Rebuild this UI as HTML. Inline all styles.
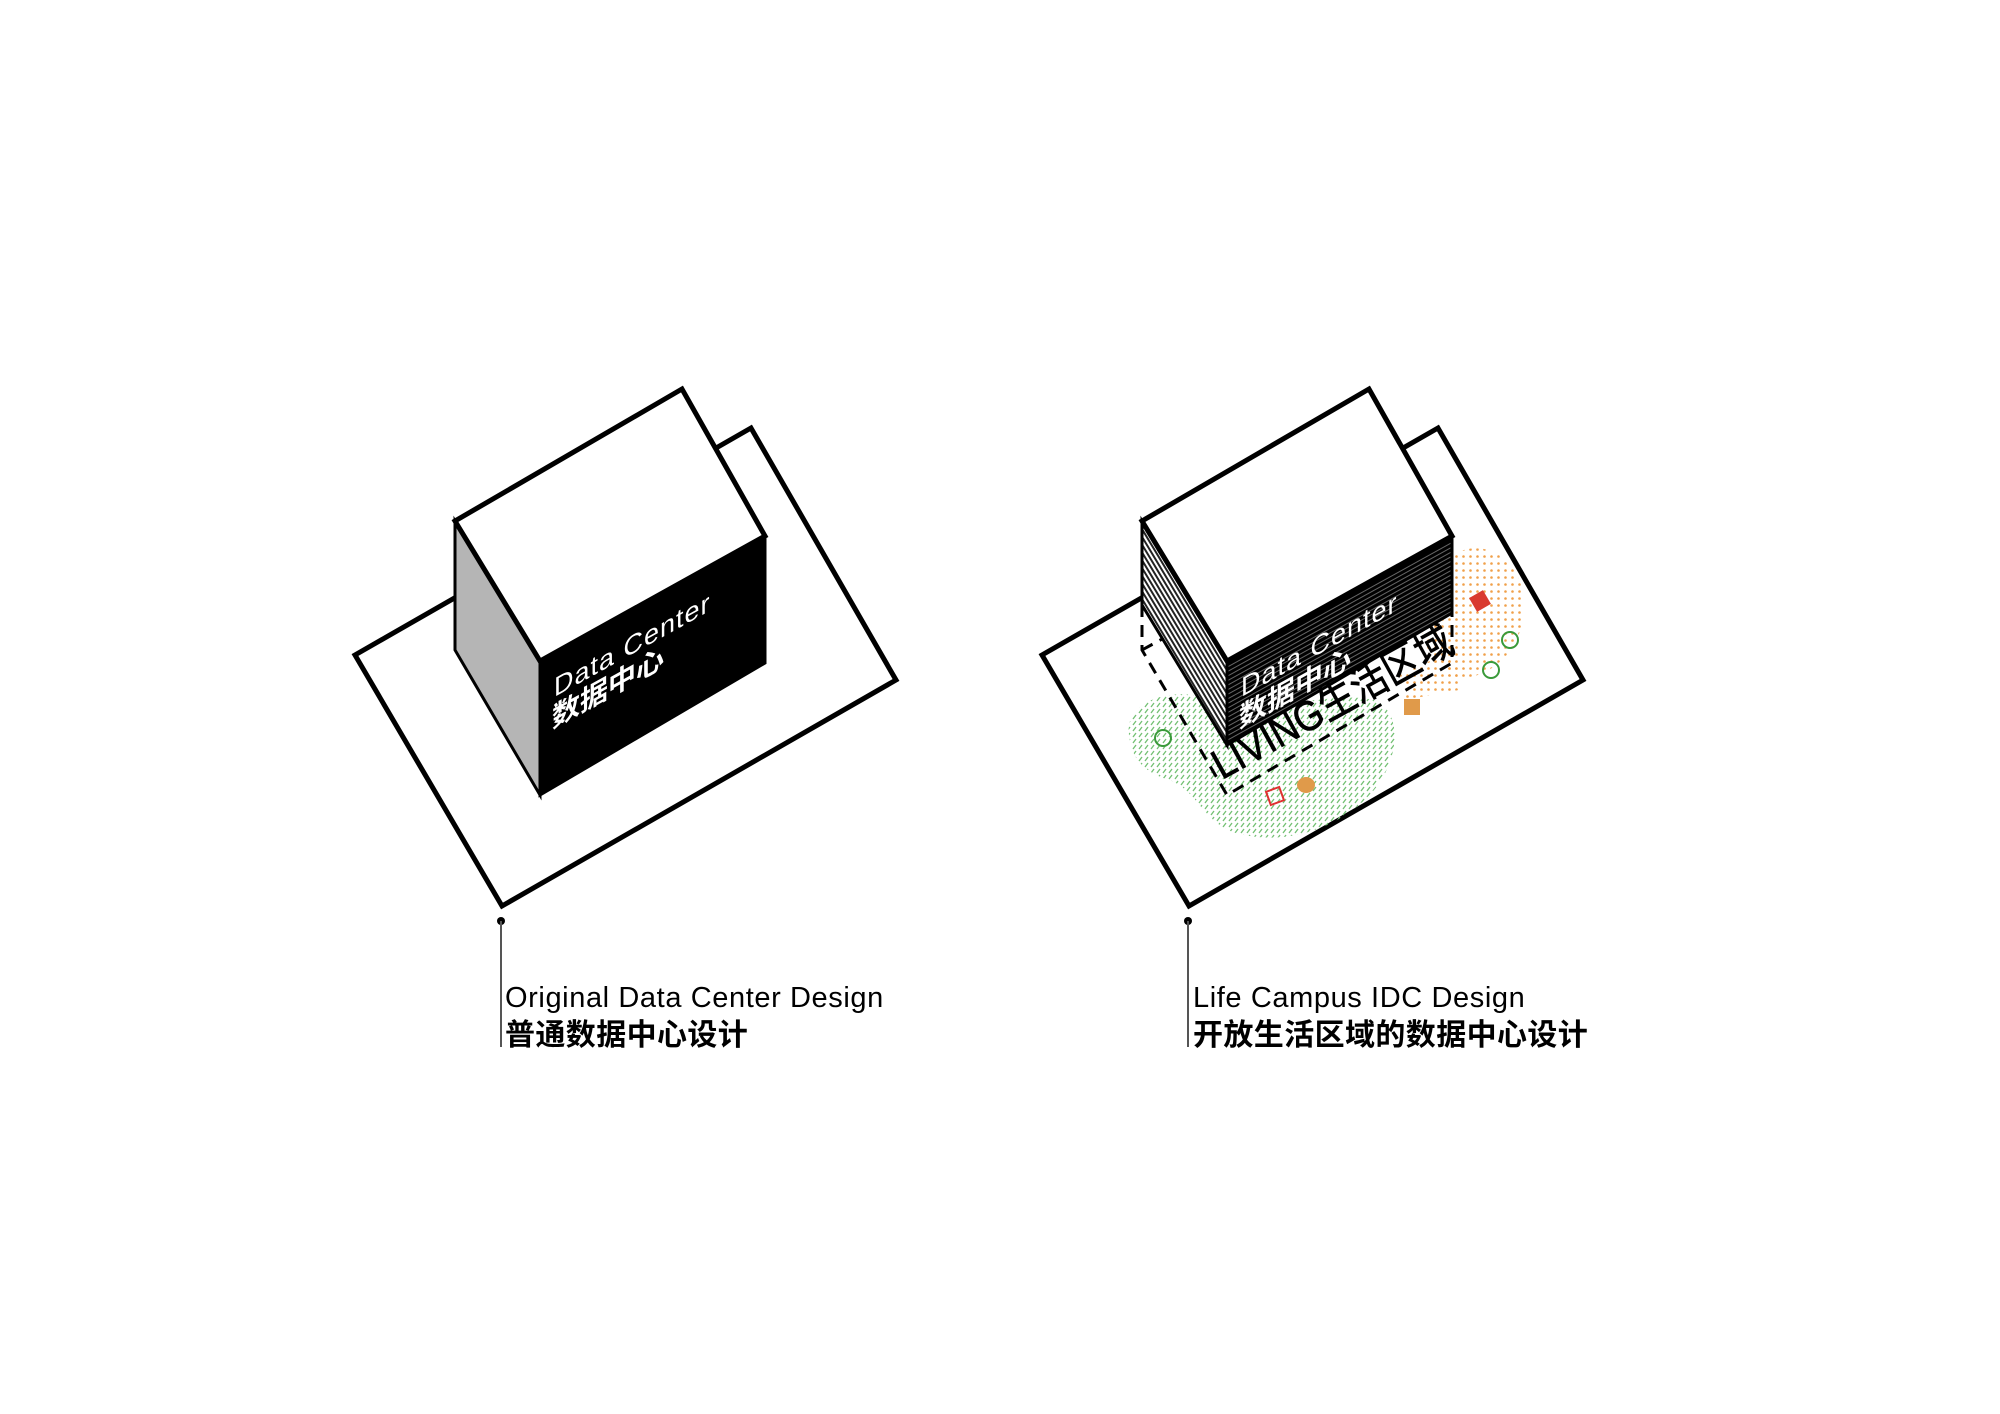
<!DOCTYPE html>
<html><head><meta charset="utf-8"><style>
html,body{margin:0;padding:0;background:#fff;}
svg{display:block;}
.en{font-family:"Liberation Sans","Noto Sans CJK SC",sans-serif;}
.cn{font-family:"Liberation Sans","Noto Sans CJK SC",sans-serif;font-weight:bold;}
</style></head><body>
<svg width="2000" height="1414" viewBox="0 0 2000 1414" xmlns="http://www.w3.org/2000/svg">
<defs>
  <pattern id="side" patternUnits="userSpaceOnUse" width="4" height="4" patternTransform="rotate(59)">
    <rect width="4" height="4" fill="#fff"/><rect width="4" height="2" fill="#222"/>
  </pattern>
  <pattern id="front" patternUnits="userSpaceOnUse" width="4" height="4" patternTransform="rotate(-29)">
    <rect width="4" height="4" fill="#000"/><rect width="4" height="1" fill="#666"/>
  </pattern>
  <pattern id="green" patternUnits="userSpaceOnUse" width="6" height="6">
    <line x1="1" y1="5" x2="4" y2="1" stroke="#73c073" stroke-width="1.3"/>
  </pattern>
  <pattern id="orange" patternUnits="userSpaceOnUse" width="7" height="7">
    <circle cx="3.5" cy="3.5" r="1.3" fill="#f0a04a"/>
  </pattern>
</defs>

<!-- LEFT FIGURE -->
<polygon points="355,655 502,906 896,680 751,428" fill="#fff" stroke="#000" stroke-width="5"/>
<polygon points="455,521 540,661 540,795 455,650" fill="#b5b5b5" stroke="#000" stroke-width="3"/>
<polygon points="540,661 765,536 765,663 540,795" fill="#000" stroke="#000" stroke-width="3"/>
<polygon points="682,389 455,521 540,661 765,536" fill="#fff" stroke="#000" stroke-width="5"/>
<g transform="translate(540,661) skewY(-29)">
  <text x="14" y="44" class="en" font-size="27" fill="#fff" letter-spacing="1">Data Center</text>
  <text x="12" y="74" class="cn" font-size="28" fill="#fff">数据中心</text>
</g>
<circle cx="501" cy="921" r="4" fill="#000"/>
<line x1="501" y1="921" x2="501" y2="1047" stroke="#555" stroke-width="2"/>
<text x="505" y="1007" class="en" font-size="29" fill="#000" letter-spacing="0.6">Original Data Center Design</text>
<text x="505" y="1045" class="cn" font-size="30" fill="#000" letter-spacing="0.4">普通数据中心设计</text>

<!-- RIGHT FIGURE -->
<g transform="translate(4,0)">
<polygon points="1038,655 1185,906 1579,680 1434,428" fill="#fff" stroke="#000" stroke-width="5"/>
<path d="M1125,735 C1120,700 1170,685 1210,700 C1260,715 1330,690 1370,700 C1400,712 1395,760 1370,790 C1340,825 1290,845 1240,835 C1200,828 1195,790 1165,780 C1140,772 1128,760 1125,735Z" fill="url(#green)"/>
<path d="M1420,640 C1410,600 1430,560 1460,550 C1495,540 1525,575 1520,615 C1515,650 1490,675 1460,678 C1440,680 1425,665 1420,640Z" fill="url(#orange)"/>
<path d="M1395,675 L1450,650 L1455,690 L1400,700Z" fill="url(#orange)"/>
<g fill="none" stroke="#000" stroke-width="3" stroke-dasharray="12,8">
  <polyline points="1138,605 1138,650 1223,795 1448,663 1448,613"/>
  <line x1="1138" y1="650" x2="1160" y2="638"/>
</g>
<polygon points="1138,521 1223,661 1223,745 1138,605" fill="url(#side)" stroke="#000" stroke-width="3"/>
<polygon points="1223,661 1448,536 1448,613 1223,745" fill="url(#front)" stroke="#000" stroke-width="3"/>
<polygon points="1365,389 1138,521 1223,661 1448,536" fill="#fff" stroke="#000" stroke-width="5"/>
<g transform="translate(1223,661) skewY(-29)">
  <text x="14" y="44" class="en" font-size="27" fill="#fff" letter-spacing="1">Data Center</text>
  <text x="12" y="74" class="cn" font-size="28" fill="#fff">数据中心</text>
</g>
<text transform="translate(1218,780) rotate(-29)" class="en" font-size="42" fill="#000" stroke="#000" stroke-width="0.8" textLength="268" lengthAdjust="spacingAndGlyphs">LIVING生活区域</text>
<circle cx="1159" cy="738" r="8" fill="none" stroke="#3a9a3a" stroke-width="2"/>
<circle cx="1506" cy="640" r="8" fill="none" stroke="#3a9a3a" stroke-width="2"/>
<circle cx="1487" cy="670" r="8" fill="none" stroke="#3a9a3a" stroke-width="2"/>
<rect x="-7" y="-7" width="14" height="14" transform="translate(1271,796) rotate(-20)" fill="none" stroke="#e03030" stroke-width="2"/>
<ellipse cx="1302" cy="785" rx="9" ry="8" fill="#e09a4a"/>
<rect x="1400" y="699" width="16" height="16" fill="#e09a4a"/>
<rect x="-8" y="-8" width="16" height="16" transform="translate(1476,601) rotate(-30)" fill="#d93a30"/>
<circle cx="1184" cy="921" r="4" fill="#000"/>
<line x1="1184" y1="921" x2="1184" y2="1047" stroke="#555" stroke-width="2"/>
<text x="1189" y="1007" class="en" font-size="29" fill="#000" letter-spacing="0.6">Life Campus IDC Design</text>
<text x="1189" y="1045" class="cn" font-size="30" fill="#000" letter-spacing="0.4">开放生活区域的数据中心设计</text>
</g>
</svg>
</body></html>
